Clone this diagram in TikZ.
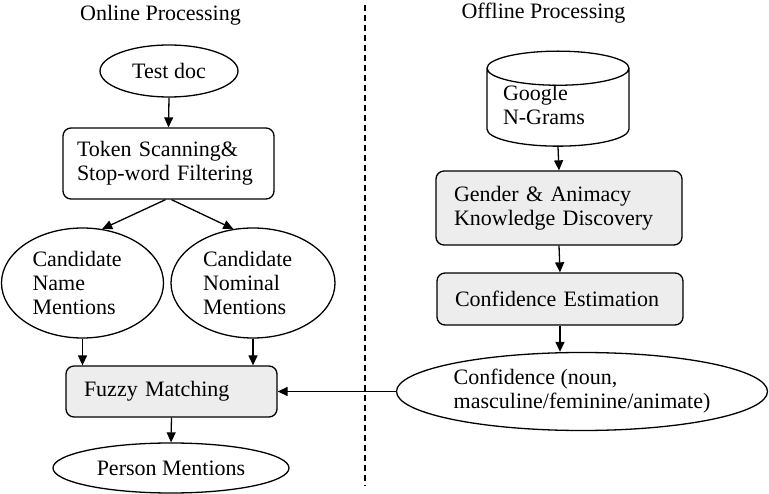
\documentclass[tikz,border=0pt]{standalone}
\usepackage{fontspec}
\setmainfont{Liberation Serif}
\usetikzlibrary{arrows.meta,shapes.geometric}
\definecolor{boxgray}{HTML}{EDEDED}
\tikzset{
  arr/.style={-{Triangle[length=10pt,width=9pt]},line width=1.3pt},
  oval/.style={ellipse,draw,line width=1.3pt,inner sep=0pt,align=left},
  procbox/.style={draw,rounded corners=8pt,line width=1.3pt,inner xsep=18pt,inner ysep=0pt,align=left},
  graybox/.style={procbox,fill=boxgray},
}
\begin{document}
\begin{tikzpicture}[x=1pt,y=-1pt,font=\fontsize{22}{24}\selectfont]
\useasboundingbox (0,0) rectangle (769,494);
% titles and separator
\node (ontitle) at (160.5,15) {Online Processing};
\node (offtitle) at (543.5,13) {Offline Processing};
\draw[line width=1.3pt,dash pattern=on 6pt off 4pt] (365,5) -- (365,486);
% online side
\node[oval,minimum width=138,minimum height=52] (testdoc) at (169,71) {Test doc};
\node[procbox,inner xsep=14pt,text width=183,minimum height=71] (tok) at (168.5,163.5) {Token Scanning\&\\Stop-word Filtering};
\node[oval,text width=100,minimum width=162,minimum height=110] (cname) at (82.5,283) {Candidate\\Name\\Mentions};
\node[oval,text width=100,minimum width=164,minimum height=110] (cnom) at (253,283) {Candidate\\Nominal\\Mentions};
\node[graybox,text width=175,minimum height=51] (fuzzy) at (171.5,391.5) {Fuzzy Matching};
\node[oval,minimum width=236,minimum height=50] (person) at (171,468) {Person Mentions};
% offline side
\node[cylinder,shape border rotate=90,draw,line width=1.3pt,aspect=0.31,
  minimum width=142,minimum height=95,inner sep=0pt,align=left,text width=110] (ngram) at (558,107.5) {\\[-13pt]Google\\N-Grams};
\node[graybox,text width=210,minimum height=74] (gender) at (559,208) {Gender \& Animacy\\Knowledge Discovery};
\node[graybox,text width=210,minimum height=52] (est) at (560,299) {Confidence Estimation};
\node[oval,minimum width=371,minimum height=78] (conf) at (582,391.5) {Confidence (noun,\\masculine/feminine/animate)};
% connectors
\draw[arr] (testdoc.south) -- (tok.north);
\draw[arr] ([xshift=-3]tok.south) -- (cname.70);
\draw[arr] ([xshift=3]tok.south) -- (cnom.110);
\draw[arr] (cname.south) -- (cname.south |- fuzzy.north);
\draw[arr] (cnom.south) -- (cnom.south |- fuzzy.north);
\draw[arr] (fuzzy.south) -- (person.north);
\draw[arr] (ngram.south) -- (gender.north);
\draw[arr] (gender.south) -- (est.north);
\draw[arr] (est.south) -- (est.south |- conf.north);
\draw[arr] (conf.west) -- (fuzzy.east);
\end{tikzpicture}
\end{document}
